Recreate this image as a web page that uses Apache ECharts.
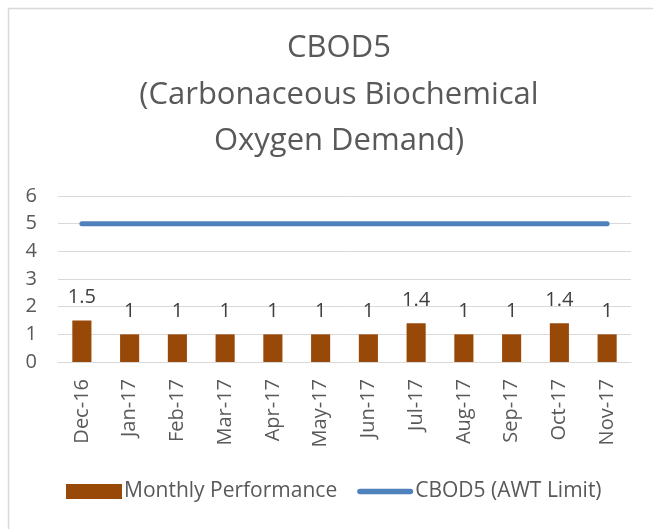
<!DOCTYPE html>
<html>
<head>
<meta charset="utf-8">
<script src="https://cdn.jsdelivr.net/npm/echarts@6/dist/echarts.min.js"></script>
<style>html,body{margin:0;padding:0;background:#fff;}#c{width:653px;height:529px;}</style>
</head>
<body>
<div id="c"></div>
<script>
const categories = ['Dec-16','Jan-17','Feb-17','Mar-17','Apr-17','May-17','Jun-17','Jul-17','Aug-17','Sep-17','Oct-17','Nov-17'];
const monthlyPerformance = [1.5, 1, 1, 1, 1, 1, 1, 1.4, 1, 1, 1.4, 1];
const awtLimit = [5, 5, 5, 5, 5, 5, 5, 5, 5, 5, 5, 5];
const yTicks = [0, 1, 2, 3, 4, 5, 6];

const font = 'Open Sans';
const chart = echarts.init(document.getElementById('c'), null, {renderer: 'canvas'});
chart.setOption({
  animation: false,
  backgroundColor: '#fff',
  graphic: [{
    type: 'rect', left: 6, top: 6, shape: {width: 660, height: 540},
    style: {fill: 'none', stroke: '#d9d9d9', lineWidth: 1.5}, silent: true
  }],
  title: {
    text: 'CBOD5\n(Carbonaceous Biochemical\nOxygen Demand)',
    left: 334, top: 20, textAlign: 'center',
    textStyle: {fontFamily: font, fontSize: 31, fontWeight: 'normal', color: '#595959', lineHeight: 46.5}
  },
  legend: {
    left: 61, top: 476, itemWidth: 56, itemHeight: 15, itemGap: 20,
    textStyle: {fontFamily: font, fontSize: 21, color: '#595959', padding: [0,0,0,-3]},
    data: [
      {name: 'Monthly Performance', icon: 'rect'},
      {name: 'CBOD5 (AWT Limit)', icon: 'path://M3,0 L57,0 A3,3 0 0 1 57,6 L3,6 A3,3 0 0 1 3,0 Z'}
    ]
  },
  grid: {left: 58, right: 22, top: 196, bottom: 167, containLabel: false},
  xAxis: {
    type: 'category', data: categories,
    axisLine: {lineStyle: {color: '#d9d9d9', width: 1}},
    axisTick: {show: false},
    axisLabel: {rotate: 90, interval: 0, fontFamily: font, fontSize: 20, color: '#595959', margin: 17}
  },
  yAxis: {
    type: 'value', min: 0, max: 6, interval: 1,
    axisLine: {show: false}, axisTick: {show: false},
    splitLine: {lineStyle: {color: '#d9d9d9', width: 1}},
    axisLabel: {fontFamily: font, fontSize: 20, color: '#595959', margin: 21,
      formatter: v => yTicks.includes(v) ? String(v) : ''}
  },
  series: [
    {
      name: 'Monthly Performance', type: 'bar', data: monthlyPerformance,
      barWidth: '40%',
      itemStyle: {color: '#984807'},
      label: {show: true, position: 'top', distance: 13, fontFamily: font, fontSize: 20, color: '#404040'}
    },
    {
      name: 'CBOD5 (AWT Limit)', type: 'line', data: awtLimit,
      symbol: 'none',
      lineStyle: {color: '#4f81bd', width: 5, cap: 'round'},
      itemStyle: {color: '#4f81bd'}
    }
  ]
});
</script>
</body>
</html>
